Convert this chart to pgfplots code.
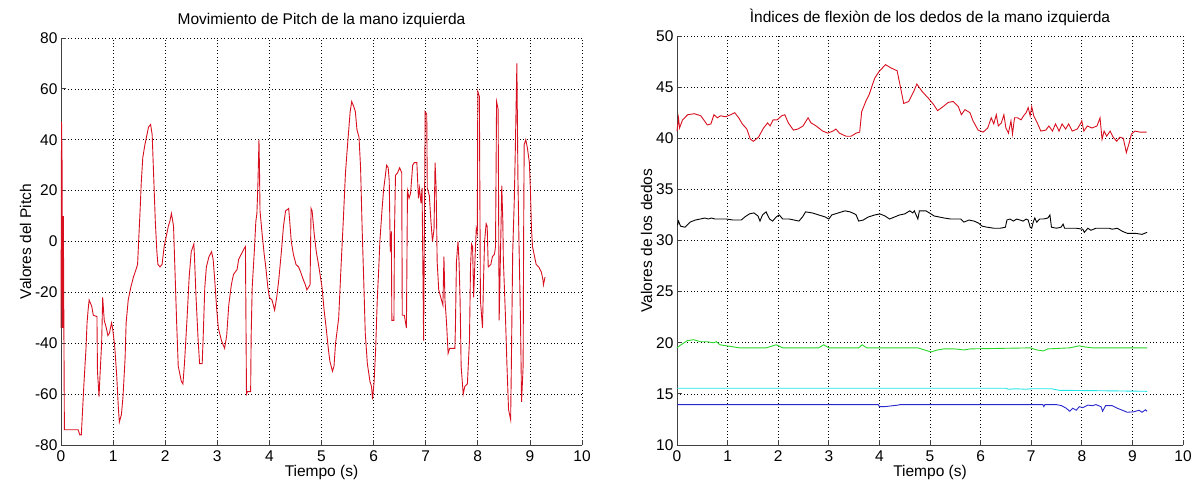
\documentclass[border=0pt]{standalone}
\usepackage{fontspec}
\setmainfont{Liberation Sans}
\usepackage{pgfplots}
\pgfplotsset{compat=1.18}
\definecolor{mred}{RGB}{215,15,30}
\definecolor{mgreen}{RGB}{40,215,40}
\definecolor{mcyan}{RGB}{30,230,230}
\definecolor{mblue}{RGB}{40,40,205}

\pgfplotsset{
  matlab/.style={
    scale only axis,
    anchor=south west,
    xmin=0, xmax=10,
    xtick={0,1,...,10},
    axis x line*=bottom,
    axis y line*=left,
    axis line style={-, draw=black!75, line width=0.8pt},
    tick align=inside,
    major tick length=5pt,
    tick style={draw=black!75, line width=0.8pt},
    grid=major,
    grid style={draw=black, line width=0.7pt, dash pattern=on 0.8pt off 2.6pt},
    /pgf/number format/assume math mode=true,
    tick label style={font=\fontsize{15.5}{17}\selectfont},
    xticklabel style={yshift=-2pt},
    label style={font=\fontsize{15.5}{17}\selectfont},
    title style={font=\fontsize{15.5}{17}\selectfont, yshift=1pt},
    xlabel style={yshift=3pt},
    ylabel style={yshift=-3pt},
    clip=false,
  }
}

\begin{document}
\begin{tikzpicture}
\path[use as bounding box] (0,0) rectangle (1196pt,490pt);

% left: pitch
\begin{axis}[matlab,
  at={(61pt,45pt)}, width=521pt, height=407pt,
  ymin=-80, ymax=80, ytick={-80,-60,...,80},
  title={Movimiento de Pitch de la mano izquierda},
  xlabel={Tiempo (s)}, ylabel={Valores del Pitch},
]
\addplot[mred, line width=0.9pt] coordinates {
(0.000,-34) (0.010,47) (0.020,33) (0.030,-34) (0.045,10) (0.065,-74)
(0.33,-74) (0.36,-76) (0.39,-76) (0.41,-68) (0.44,-56) (0.48,-42)
(0.50,-32) (0.52,-27) (0.54,-23) (0.59,-25.5) (0.62,-29) (0.69,-29.5)
(0.70,-51) (0.73,-61) (0.75,-52) (0.78,-40) (0.80,-22) (0.83,-31)
(0.87,-34) (0.90,-37) (0.93,-36) (0.97,-32) (0.99,-34) (1.03,-41)
(1.07,-53) (1.10,-65) (1.12,-71) (1.16,-68) (1.19,-61) (1.23,-46)
(1.25,-32) (1.29,-23) (1.34,-18) (1.39,-14) (1.44,-11) (1.47,-9)
(1.49,0) (1.52,13) (1.54,23) (1.57,33) (1.61,38) (1.65,42) (1.68,45)
(1.72,46) (1.75,42) (1.78,25) (1.81,8) (1.84,-4) (1.86,-9) (1.90,-10)
(1.94,-9) (1.98,-2) (2.03,3) (2.06,6) (2.09,8) (2.12,11) (2.16,6)
(2.19,-13) (2.22,-32) (2.25,-49) (2.31,-55) (2.34,-56) (2.37,-48)
(2.42,-30) (2.46,-14) (2.50,-4) (2.55,-1) (2.56,-5) (2.59,-21)
(2.63,-38) (2.66,-48) (2.71,-48) (2.73,-37) (2.76,-18) (2.79,-10)
(2.84,-6) (2.89,-4) (2.92,-7) (2.95,-15) (2.99,-27) (3.02,-34)
(3.08,-39) (3.14,-42) (3.18,-37) (3.22,-25) (3.27,-17) (3.31,-13)
(3.38,-11) (3.41,-7) (3.46,-5) (3.51,-3) (3.54,-2) (3.56,-60)
(3.58,-59) (3.64,-59) (3.65,-37) (3.67,-18) (3.71,-4) (3.74,8)
(3.76,11) (3.78,23) (3.80,40) (3.81,28) (3.82,12) (3.86,3) (3.90,-5)
(3.93,-10) (3.97,-18) (4.00,-22) (4.05,-23) (4.10,-27) (4.14,-22)
(4.18,-15) (4.23,-4) (4.27,6) (4.31,12) (4.37,13) (4.39,8) (4.42,0)
(4.46,-5) (4.51,-9) (4.56,-10) (4.60,-12) (4.65,-15) (4.69,-17)
(4.72,-19) (4.75,-18) (4.78,-17) (4.80,13) (4.82,12) (4.86,3)
(4.90,-4) (4.95,-10) (5.01,-18) (5.05,-27) (5.09,-34) (5.13,-42)
(5.16,-47) (5.21,-51) (5.24,-49) (5.27,-40) (5.33,-30) (5.37,-12)
(5.42,9) (5.46,27) (5.50,38) (5.55,51) (5.58,55) (5.62,53) (5.65,51)
(5.68,44) (5.72,41) (5.75,29) (5.78,5) (5.81,-15) (5.84,-36)
(5.88,-48) (5.93,-55) (5.96,-57) (5.98,-62) (6.01,-55) (6.04,-42)
(6.07,-23) (6.10,-10) (6.12,0) (6.16,12) (6.19,20) (6.22,25) (6.25,30)
(6.28,29) (6.30,24) (6.32,-4) (6.34,4) (6.35,-31) (6.39,-31) (6.40,3)
(6.42,26) (6.46,27) (6.50,29) (6.54,27) (6.55,-29) (6.59,-29)
(6.63,-34) (6.65,20) (6.68,17) (6.71,19) (6.75,30) (6.78,31)
(6.83,31) (6.86,17) (6.88,21) (6.91,15) (6.93,21) (6.96,-39)
(6.99,51) (7.02,50) (7.03,21) (7.07,18) (7.10,8) (7.13,0) (7.16,5)
(7.18,31) (7.20,21) (7.22,-8) (7.25,-19) (7.29,-22) (7.33,-25)
(7.35,-6) (7.37,-23) (7.40,-32) (7.43,-44) (7.46,-42) (7.53,-42)
(7.56,-42) (7.57,-34) (7.59,-8) (7.62,0) (7.64,-8) (7.66,-23)
(7.68,-49) (7.72,-60) (7.75,-57) (7.80,-56) (7.84,-39) (7.86,-10)
(7.88,-1) (7.90,-2) (7.92,-22) (7.95,-5) (7.97,5) (7.99,3) (8.00,59)
(8.03,57) (8.05,-23) (8.09,-34) (8.11,-15) (8.13,0) (8.16,7) (8.18,6)
(8.20,-10) (8.25,-9) (8.28,-6) (8.32,-5) (8.34,-2) (8.36,55) (8.39,52)
(8.41,-31) (8.44,0) (8.46,22) (8.48,8) (8.49,-7) (8.53,-29) (8.56,-49)
(8.59,-66) (8.63,-70) (8.64,-55) (8.67,-4) (8.70,16) (8.72,36)
(8.75,70) (8.77,25) (8.79,0) (8.82,-32) (8.84,-63) (8.87,-49)
(8.88,3) (8.89,38) (8.92,40) (8.95,37) (8.99,31) (9.01,20) (9.03,5)
(9.05,-2) (9.09,-6) (9.12,-9) (9.17,-10) (9.22,-12) (9.25,-15)
(9.26,-17) (9.29,-14)
};
\end{axis}

% right: finger flexion
\begin{axis}[matlab,
  at={(677pt,45pt)}, width=506pt, height=409pt,
  ymin=10, ymax=50, ytick={10,15,...,50},
  title={Ìndices de flexiòn de los dedos de la mano izquierda},
  xlabel={Tiempo (s)}, ylabel={Valores de los dedos},
]
\addplot[mred, line width=0.9pt] coordinates {
(0.00,40.7) (0.03,42.0) (0.05,41.0) (0.11,41.8) (0.21,42.3) (0.34,42.4)
(0.47,42.2) (0.60,41.3) (0.67,41.4) (0.73,42.3) (0.80,42.0) (0.86,42.2)
(0.96,42.1) (1.06,42.3) (1.14,42.5) (1.22,42.0) (1.29,41.4) (1.38,40.9)
(1.45,39.9) (1.51,39.7) (1.61,40.1) (1.71,41.0) (1.79,41.5) (1.84,41.2)
(1.90,41.8) (1.98,41.8) (2.07,42.2) (2.13,42.3) (2.20,41.5) (2.30,40.8)
(2.39,40.9) (2.49,41.2) (2.54,41.6) (2.59,42.0) (2.65,41.5) (2.75,41.2)
(2.88,40.7) (2.98,40.5) (3.08,40.7) (3.14,40.9) (3.21,40.5) (3.34,40.2)
(3.44,40.2) (3.54,40.5) (3.61,40.6) (3.65,42.6) (3.73,43.6) (3.80,44.3)
(3.86,45.2) (3.91,45.9) (3.99,46.5) (4.12,47.2) (4.22,46.9) (4.35,46.6)
(4.42,44.9) (4.48,43.4) (4.58,43.6) (4.68,44.6) (4.74,45.3) (4.84,44.6)
(4.97,43.9) (5.07,43.3) (5.15,42.7) (5.26,43.1) (5.36,43.5) (5.46,43.6)
(5.56,43.1) (5.62,42.3) (5.69,42.8) (5.79,42.5) (5.85,41.7) (5.95,40.8)
(6.05,40.6) (6.14,41.0) (6.21,42.0) (6.26,41.4) (6.31,42.3) (6.35,41.2)
(6.41,41.5) (6.46,42.3) (6.50,41.0) (6.55,40.5) (6.60,41.7) (6.63,40.4)
(6.67,42.0) (6.73,42.0) (6.80,41.8) (6.85,42.2) (6.90,42.5) (6.94,43.0)
(6.98,42.2) (7.01,43.1) (7.05,42.2) (7.12,41.5) (7.19,40.7) (7.29,40.8)
(7.35,41.2) (7.42,40.7) (7.48,41.4) (7.55,40.7) (7.61,41.4) (7.68,40.9)
(7.74,41.4) (7.81,40.7) (7.91,40.9) (7.97,41.4) (8.00,41.7) (8.04,40.7)
(8.11,41.2) (8.20,41.0) (8.30,41.2) (8.36,42.0) (8.40,39.9) (8.44,40.7)
(8.49,40.2) (8.56,40.7) (8.62,40.1) (8.69,39.7) (8.75,40.1) (8.82,40.0)
(8.88,38.6) (8.94,39.6) (8.98,40.4) (9.05,40.7) (9.15,40.6) (9.28,40.6)
};
\addplot[black, line width=0.9pt] coordinates {
(0.01,31.5) (0.03,31.9) (0.07,31.4) (0.16,31.3) (0.26,31.8) (0.36,32.0)
(0.46,32.1) (0.55,32.2) (0.62,32.1) (0.68,32.2) (0.75,32.1) (0.85,32.1)
(0.98,32.1) (1.11,32.0) (1.27,32.0) (1.34,32.3) (1.43,32.6) (1.52,32.7)
(1.60,32.4) (1.64,31.9) (1.69,32.5) (1.76,32.8) (1.83,32.1) (1.89,31.9)
(1.96,32.3) (2.02,32.5) (2.09,32.1) (2.22,32.1) (2.41,31.9) (2.48,32.3)
(2.54,32.8) (2.67,32.7) (2.80,32.5) (2.93,32.3) (3.00,32.1) (3.06,32.5)
(3.19,32.7) (3.32,32.9) (3.42,32.8) (3.51,32.6) (3.54,32.5) (3.59,31.9)
(3.68,32.0) (3.78,32.3) (3.91,32.5) (4.01,32.6) (4.11,32.4) (4.20,32.1)
(4.30,32.3) (4.40,32.5) (4.50,32.6) (4.60,32.9) (4.66,32.7) (4.69,32.9)
(4.76,32.1) (4.79,32.9) (4.92,32.9) (5.02,32.6) (5.08,32.4) (5.18,32.3)
(5.28,32.2) (5.41,32.1) (5.61,32.1) (5.67,31.8) (5.77,32.0) (5.87,31.9)
(5.96,31.7) (6.03,31.4) (6.13,31.3) (6.26,31.2) (6.39,31.2) (6.49,31.3)
(6.52,32.0) (6.58,32.1) (6.65,31.9) (6.71,32.1) (6.78,32.0) (6.84,31.9)
(6.90,32.1) (6.94,32.0) (6.98,31.3) (7.01,31.2) (7.04,31.8) (7.07,32.2)
(7.11,31.8) (7.17,32.1) (7.24,32.1) (7.33,32.2) (7.37,32.5) (7.40,31.3)
(7.50,31.2) (7.59,31.3) (7.63,31.6) (7.66,31.2) (7.76,31.2) (7.89,31.2)
(8.02,31.1) (8.05,30.8) (8.12,31.2) (8.18,31.0) (8.28,31.2) (8.41,31.2)
(8.54,31.2) (8.60,31.1) (8.70,31.2) (8.80,30.9) (8.90,30.7) (9.06,30.7)
(9.19,30.6) (9.29,30.8)
};
\addplot[mgreen, line width=0.9pt] coordinates {
(0.00,19.5) (0.05,19.7) (0.20,20.2) (0.33,20.3) (0.46,20.1) (0.59,20.1)
(0.72,20.0) (0.78,20.1) (0.85,19.8) (0.98,19.7) (1.11,19.6) (1.24,19.5)
(1.50,19.5) (1.76,19.5) (1.96,19.8) (2.09,19.5) (2.80,19.5) (2.90,19.8)
(3.00,19.5) (3.59,19.5) (3.66,19.8) (3.75,19.5) (4.76,19.5) (4.89,19.3)
(5.02,19.1) (5.15,19.3) (5.28,19.4) (5.48,19.4) (5.67,19.3) (5.80,19.4)
(6.98,19.5) (7.11,19.3) (7.24,19.2) (7.33,19.4) (7.76,19.5) (7.95,19.7)
(8.05,19.6) (8.21,19.5) (9.29,19.5)
};
\addplot[mcyan, line width=0.9pt] coordinates {
(0,15.55) (6.50,15.55) (6.55,15.45) (6.70,15.5) (6.90,15.45) (7.00,15.5)
(7.40,15.5) (7.55,15.35) (8.50,15.3) (9.29,15.25)
};
\addplot[mblue, line width=0.9pt] coordinates {
(0,13.95) (3.98,13.95) (4.00,13.75) (4.10,13.75) (4.37,13.9) (4.40,13.95)
(7.23,13.95) (7.25,13.75) (7.27,13.95) (7.50,13.95) (7.60,13.85)
(7.69,13.6) (7.76,13.3) (7.82,13.6) (7.89,13.4) (7.95,13.75) (8.02,13.65)
(8.12,13.9) (8.21,13.85) (8.28,13.95) (8.38,13.75) (8.41,13.3)
(8.47,13.85) (8.60,13.85) (8.70,13.6) (8.80,13.4) (8.90,13.2)
(9.03,13.25) (9.13,13.4) (9.19,13.2) (9.26,13.45) (9.29,13.3)
};
\end{axis}
\end{tikzpicture}
\end{document}
